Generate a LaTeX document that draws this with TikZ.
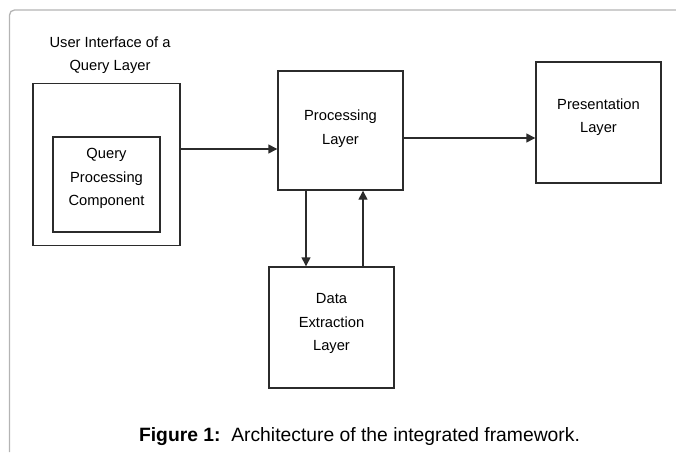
\documentclass[tikz,border=0pt]{standalone}
\usepackage{fontspec}
\setmainfont{Liberation Sans}
\usetikzlibrary{arrows.meta}
\definecolor{ink}{HTML}{2B2B2B}
\definecolor{framegray}{HTML}{B4B4B4}
\begin{document}
\begin{tikzpicture}[x=1pt,y=-1pt,
  boxstyle/.style={draw=ink,line width=1.4pt,minimum width=#1,inner sep=0pt},
  txt/.style={align=center,font=\fontsize{14.7}{23.5}\selectfont,text=black,inner sep=0pt},
  conn/.style={draw=ink,line width=1.4pt,-{Triangle[length=9pt,width=9pt]}}]
\useasboundingbox (0,0) rectangle (676,452);
% frame
\draw[framegray,line width=1.3pt,rounded corners=5pt] (9.5,452) -- (9.5,10) -- (676,10);
% boxes
\node[boxstyle=147pt,minimum height=162pt] (ui) at (106.5,164.5) {};
\node[boxstyle=107pt,minimum height=95pt] (qpc) at (106.5,184.5) {};
\node[boxstyle=125pt,minimum height=119pt] (proc) at (340.5,130.5) {};
\node[boxstyle=125pt,minimum height=121pt] (pres) at (598.5,122.5) {};
\node[boxstyle=125pt,minimum height=121pt] (data) at (331.5,327.5) {};
% texts
\node[txt] (uilab) at (110,55) {User Interface of a\\Query Layer};
\node[txt] (qpclab) at (106.5,178.5) {Query\\Processing\\Component};
\node[txt] (proclab) at (340.5,128.5) {Processing\\Layer};
\node[txt] (preslab) at (598.5,117) {Presentation\\Layer};
\node[txt] (datalab) at (331.5,323.5) {Data\\Extraction\\Layer};
% connectors
\draw[conn] (ui.east |- 0,149) -- (proc.west |- 0,149);
\draw[conn] (proc.east |- 0,138) -- (pres.west |- 0,138);
\draw[conn] (proc.south -| 306,0) -- (data.north -| 306,0);
\draw[conn] (data.north -| 363,0) -- (proc.south -| 363,0);
% caption
\node[font=\fontsize{19.3}{22}\selectfont,inner sep=0pt] (cap) at (359.5,437) {\textbf{Figure 1:}\ \ Architecture of the integrated framework.};
\end{tikzpicture}
\end{document}
